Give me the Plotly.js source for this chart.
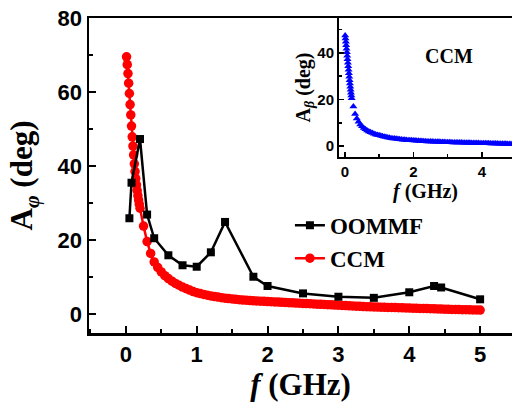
<!DOCTYPE html>
<html>
<head>
<meta charset="utf-8">
<script src="https://cdn.plot.ly/plotly-3.0.1.min.js"></script>
<style>html,body{margin:0;padding:0;background:#fff;}#chart{width:512px;height:405px;}</style>
</head>
<body>
<div id="chart"></div>
<script>
// OOMMF simulation (main panel)
var oommfF = [0.05, 0.08, 0.2, 0.3, 0.4, 0.6, 0.8, 1.0, 1.2, 1.4, 1.8, 2.0, 2.5, 3.0, 3.5, 4.0, 4.35, 4.45, 5.0];
var oommfA = [25.9, 35.5, 47.3, 26.9, 20.5, 15.9, 13.2, 12.8, 16.7, 24.9, 10.1, 7.6, 5.6, 4.7, 4.4, 5.9, 7.6, 7.2, 4.0];

// CCM A_phi (main panel)
var ccmF = [0.01,0.02,0.03,0.04,0.05,0.06,0.07,0.08,0.09,0.10,0.11,0.12,0.13,0.14,0.15,0.16,0.17,0.18,0.19,0.20,
  0.25,0.30,0.35,0.40,0.45,0.50,0.55,0.60,0.65,0.70,0.75,0.80,0.85,0.90,0.95,1.00,
  1.05,1.10,1.15,1.20,1.25,1.30,1.35,1.40,1.45,1.50,1.55,1.60,1.65,1.70,1.75,1.80,1.85,1.90,1.95,2.00,
  2.05,2.10,2.15,2.20,2.25,2.30,2.35,2.40,2.45,2.50,2.55,2.60,2.65,2.70,2.75,2.80,2.85,2.90,2.95,3.00,
  3.05,3.10,3.15,3.20,3.25,3.30,3.35,3.40,3.45,3.50,3.55,3.60,3.65,3.70,3.75,3.80,3.85,3.90,3.95,4.00,
  4.05,4.10,4.15,4.20,4.25,4.30,4.35,4.40,4.45,4.50,4.55,4.60,4.65,4.70,4.75,4.80,4.85,4.90,4.95,5.00];
var ccmA = [69.5,67.4,65.0,62.4,59.6,56.6,53.8,50.8,47.9,45.4,43.0,40.6,38.5,36.6,34.9,33.4,32.0,30.8,29.7,28.6,
  23.8,19.6,16.4,14.1,12.6,11.4,10.4,9.6,8.9,8.3,7.8,7.3,6.9,6.5,6.1,5.8,
  5.55,5.3,5.1,4.9,4.75,4.6,4.45,4.3,4.2,4.1,4.0,3.9,3.8,3.75,3.65,3.6,3.55,3.5,3.45,3.4,
  3.35,3.3,3.25,3.2,3.15,3.1,3.05,3.0,2.95,2.9,2.85,2.8,2.75,2.7,2.65,2.6,2.55,2.5,2.45,2.4,
  2.35,2.3,2.25,2.2,2.15,2.1,2.05,2.0,1.97,1.94,1.91,1.88,1.85,1.82,1.79,1.76,1.73,1.70,1.67,1.64,
  1.61,1.58,1.55,1.52,1.49,1.46,1.43,1.40,1.37,1.34,1.31,1.28,1.25,1.22,1.20,1.18,1.16,1.14,1.12,1.10];

// CCM A_beta (inset)
var betaF = ccmF.slice();
var betaA = [47.5,46.2,44.8,43.3,41.8,40.3,38.8,37.3,35.8,34.3,32.8,31.3,29.8,28.3,26.9,25.5,24.2,22.9,21.7,20.5,
  17.0,13.8,11.8,10.4,9.3,8.5,7.8,7.2,6.7,6.3,5.9,5.6,5.3,5.0,4.8,4.6,
  4.4,4.2,4.0,3.85,3.7,3.55,3.4,3.3,3.2,3.1,3.0,2.9,2.8,2.75,2.7,2.6,2.55,2.5,2.45,2.4,
  2.35,2.3,2.25,2.2,2.15,2.1,2.05,2.0,1.98,1.95,1.92,1.89,1.86,1.83,1.8,1.77,1.74,1.71,1.68,1.65,
  1.62,1.6,1.58,1.56,1.54,1.52,1.5,1.48,1.46,1.44,1.42,1.4,1.38,1.36,1.34,1.32,1.3,1.28,1.26,1.24,
  1.22,1.2,1.18,1.16,1.14,1.12,1.1,1.08,1.06,1.04,1.02,1.0,0.98,0.96,0.94,0.92,0.9,0.88,0.86,0.84];

var mainTicksX = [0, 1, 2, 3, 4, 5];
var mainTicksY = [0, 20, 40, 60, 80];
var insetTicksX = [0, 2, 4];
var insetTicksY = [0, 20, 40];

var serif = "'Liberation Serif', 'Times New Roman', serif";
var sans = "'Liberation Sans', Arial, sans-serif";

var traces = [
  {x: ccmF, y: ccmA, name: 'CCM', mode: 'lines+markers', legendrank: 2,
   line: {color: '#ff0000', width: 2.5},
   marker: {symbol: 'circle', size: 9.5, color: '#ff0000'}},
  {x: oommfF, y: oommfA, name: 'OOMMF', mode: 'lines+markers', legendrank: 1,
   line: {color: '#000000', width: 2.5},
   marker: {symbol: 'square', size: 8, color: '#000000'}},
  {x: betaF, y: betaA, name: 'CCM beta', mode: 'markers', showlegend: false,
   xaxis: 'x2', yaxis: 'y2',
   marker: {symbol: 'triangle-up', size: 7, color: '#0000ff'}}
];

var axCommon = {
  showline: true, linecolor: '#000', linewidth: 2.5, showgrid: false, zeroline: false,
  ticks: 'inside', ticklen: 7, tickwidth: 2, tickcolor: '#000'
};

var layout = {
  width: 512, height: 405,
  margin: {l: 89, r: 0, t: 18, b: 72, pad: 0},
  paper_bgcolor: '#fff', plot_bgcolor: 'rgba(0,0,0,0)',
  showlegend: true,
  legend: {x: 0.475, xanchor: 'left', y: 0.41, yanchor: 'top', bgcolor: 'rgba(0,0,0,0)',
    font: {family: serif, size: 23, weight: 'bold', color: '#000'}, tracegroupgap: 0},
  xaxis: Object.assign({}, axCommon, {
    domain: [0, 1], range: [-0.52, 5.45], mirror: true,
    tickmode: 'array', tickvals: mainTicksX, ticktext: mainTicksX.map(String),
    tickfont: {family: sans, size: 22, weight: 'bold', color: '#000'},
    minor: {ticks: 'inside', ticklen: 4, tickwidth: 2, tickcolor: '#000', dtick: 0.5, tick0: 0, showgrid: false},
    title: {text: '<i>f</i> (GHz)', font: {family: serif, size: 31, weight: 'bold', color: '#000'}, standoff: 5}
  }),
  yaxis: Object.assign({}, axCommon, {
    domain: [0, 1], range: [-5.1, 80], mirror: false,
    tickmode: 'array', tickvals: mainTicksY, ticktext: mainTicksY.map(String),
    tickfont: {family: sans, size: 22, weight: 'bold', color: '#000'},
    minor: {ticks: 'inside', ticklen: 4, tickwidth: 2, tickcolor: '#000', dtick: 10, tick0: 0, showgrid: false},
    title: {text: 'A<sub><i>φ</i></sub> (deg)', font: {family: serif, size: 31, weight: 'bold', color: '#000'}, standoff: 16}
  }),
  xaxis2: Object.assign({}, axCommon, {
    domain: [0.591, 1], anchor: 'y2', range: [-0.17, 4.88], linewidth: 2, ticklen: 5, tickwidth: 1.5,
    tickmode: 'array', tickvals: insetTicksX, ticktext: insetTicksX.map(String),
    tickfont: {family: sans, size: 15, weight: 'bold', color: '#000'},
    minor: {ticks: 'inside', ticklen: 3, tickwidth: 1.5, tickcolor: '#000', dtick: 1, tick0: 0, showgrid: false},
    title: {text: '<i>f</i> (GHz)', font: {family: serif, size: 20, weight: 'bold', color: '#000'}, standoff: 3}
  }),
  yaxis2: Object.assign({}, axCommon, {
    domain: [0.5587, 1], anchor: 'x2', range: [-4.7, 55], linewidth: 2, ticklen: 5, tickwidth: 1.5,
    tickmode: 'array', tickvals: insetTicksY, ticktext: insetTicksY.map(String),
    tickfont: {family: sans, size: 15, weight: 'bold', color: '#000'},
    minor: {ticks: 'inside', ticklen: 3, tickwidth: 1.5, tickcolor: '#000', dtick: 10, tick0: 0, showgrid: false},
    title: {text: 'A<sub><i>β</i></sub> (deg)', font: {family: serif, size: 20, weight: 'bold', color: '#000'}, standoff: 1}
  }),
  annotations: [
    {text: 'CCM', xref: 'x2', yref: 'y2', x: 3.05, y: 38.5, showarrow: false,
     font: {family: serif, size: 20, weight: 'bold', color: '#000'}}
  ]
};

Plotly.newPlot('chart', traces, layout, {displayModeBar: false, staticPlot: true});
</script>
</body>
</html>
